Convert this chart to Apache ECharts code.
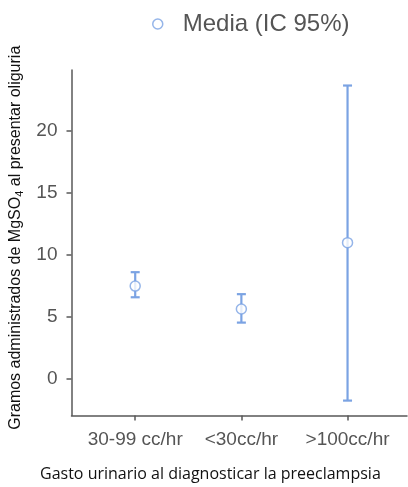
<!DOCTYPE html>
<html>
<head>
<meta charset="utf-8">
<script src="https://cdn.jsdelivr.net/npm/echarts@6/dist/echarts.min.js"></script>
<style>
  html, body { margin: 0; padding: 0; background: #fff; }
  #chart { width: 408px; height: 487px; }
</style>
</head>
<body>
<div id="chart"></div>
<script>
// categories of urine output
var categories = ['30-99 cc/hr', '<30cc/hr', '>100cc/hr'];
// mean grams and 95% CI bounds
var means = [7.5, 5.66, 11.0];
var lower = [6.6, 4.56, -1.72];
var upper = [8.62, 6.85, 23.65];
var yTicks = [0, 5, 10, 15, 20];
var xTicks = [0, 1, 2];

var barColor = '#7ba3e3';
var axisColor = '#585858';

var ciData = categories.map(function (c, i) { return [i, lower[i], upper[i]]; });
var meanData = categories.map(function (c, i) { return [i, means[i]]; });

var chart = echarts.init(document.getElementById('chart'));

var option = {
    animation: false,
    textStyle: {fontFamily: 'Liberation Sans, Arial, sans-serif'},
    legend: {
        data: ['Media (IC 95%)'],
        icon: 'circle',
        left: 147,
        top: 7,
        itemWidth: 10,
        itemHeight: 10,
        itemStyle: {
            color: '#fff',
            borderColor: barColor,
            borderWidth: 1.5
        },
        textStyle: {
            fontSize: 24,
            color: '#555',
            padding: [0, 0, 0, 15]
        }
    },
    title: {
        text: 'Gasto urinario al diagnosticar la preeclampsia',
        left: 35,
        top: 461,
        textStyle: {
            fontFamily: 'Open Sans, sans-serif',
            fontWeight: 'normal',
            fontSize: 16,
            color: '#111'
        }
    },
    grid: {
        left: 71.5,
        right: 1,
        top: 70,
        bottom: 71.5,
        containLabel: false,
        outerBoundsMode: 'none'
    },
    xAxis: {
        type: 'value',
        min: -0.6,
        max: 2.56,
        splitLine: {show: false},
        axisLine: {onZero: false, lineStyle: {color: axisColor, width: 1.5}},
        axisTick: {
            customValues: xTicks,
            length: 5,
            lineStyle: {color: axisColor, width: 1.5}
        },
        axisLabel: {
            customValues: xTicks,
            margin: 15,
            fontSize: 19,
            color: '#555',
            formatter: function (v) { return categories[Math.round(v)]; }
        }
    },
    yAxis: {
        type: 'value',
        min: -2.92,
        max: 24.9,
        name: '{a|Gramos administrados de MgSO}{s|4}{a| al presentar oliguria}',
        nameLocation: 'middle',
        nameGap: 41,
        nameTextStyle: {
            padding: [0, 0, 0, 10],
            rich: {
                a: {fontSize: 16, color: '#111'},
                s: {fontSize: 11, color: '#111', verticalAlign: 'bottom', padding: [8, 0, 0, 0]}
            }
        },
        splitLine: {show: false},
        axisLine: {show: true, onZero: false, lineStyle: {color: axisColor, width: 1.5}},
        axisTick: {
            show: true,
            customValues: yTicks,
            length: 5,
            lineStyle: {color: axisColor, width: 1.5}
        },
        axisLabel: {
            customValues: yTicks,
            margin: 14,
            fontSize: 19,
            color: '#555'
        }
    },
    series: [
        {
            name: 'IC',
            type: 'custom',
            data: ciData,
            renderItem: function (params, api) {
                var x = api.value(0);
                var lo = api.coord([x, api.value(1)]);
                var hi = api.coord([x, api.value(2)]);
                var half = 4.5;
                var style = {stroke: barColor, lineWidth: 2.2, fill: null};
                return {
                    type: 'group',
                    children: [
                        {type: 'line', shape: {x1: lo[0], y1: lo[1], x2: hi[0], y2: hi[1]}, style: style},
                        {type: 'line', shape: {x1: lo[0] - half, y1: lo[1], x2: lo[0] + half, y2: lo[1]}, style: style},
                        {type: 'line', shape: {x1: hi[0] - half, y1: hi[1], x2: hi[0] + half, y2: hi[1]}, style: style}
                    ]
                };
            },
            z: 2
        },
        {
            name: 'Media (IC 95%)',
            type: 'scatter',
            data: meanData,
            symbol: 'circle',
            symbolSize: 10,
            itemStyle: {
                color: '#fff',
                borderColor: barColor,
                borderWidth: 1.5
            },
            z: 3
        }
    ]
};

chart.setOption(option);
</script>
</body>
</html>
